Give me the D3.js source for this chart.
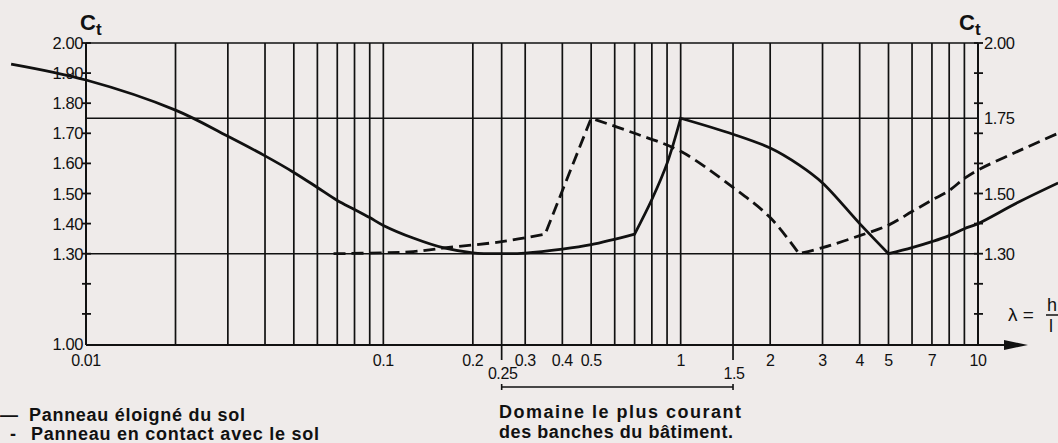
<!DOCTYPE html>
<html>
<head>
<meta charset="utf-8">
<script src="https://cdn.jsdelivr.net/npm/d3@7"></script>
<style>
  body { margin: 0; background: #efebea; }
  svg { display: block; }
  text { font-family: "Liberation Sans", Arial, sans-serif; fill: #111; }
</style>
</head>
<body>
<svg id="chart" width="1058" height="443"></svg>
<script>
// grid lines and tick labels (lambda = h/l, log scale)
const xGrid = [0.02, 0.03, 0.04, 0.05, 0.06, 0.07, 0.08, 0.09, 0.1,
  0.2, 0.25, 0.3, 0.4, 0.5, 0.6, 0.7, 0.8, 0.9, 1,
  1.5, 2, 3, 4, 5, 6, 7, 8, 9]
const xLabels = [0.01, 0.1, 0.2, 0.3, 0.4, 0.5, 1, 2, 3, 4, 5, 7, 10]
const xLabelText = ["0.01", "0.1", "0.2", "0.3", "0.4", "0.5", "1", "2", "3", "4", "5", "7", "10"]
const xLabelsLow = [0.25, 1.5]
const xLabelLowText = ["0.25", "1.5"]
const rangeBracket = [0.25, 1.5]

const yTicks = [1.1, 1.2, 1.3, 1.4, 1.5, 1.6, 1.7, 1.8, 1.9, 2.0]
const yLeftLabels = [1.0, 1.3, 1.4, 1.5, 1.6, 1.7, 1.8, 1.9, 2.0]
const yRightLabels = [1.3, 1.5, 1.75, 2.0]
const yGrid = [1.3, 1.75, 2.0]

// Panneau éloigné du sol (solid); each inner array is one smooth piece
const solidX = [
  [0.0056, 0.01, 0.02, 0.03, 0.04, 0.05, 0.06, 0.07, 0.08, 0.09, 0.1, 0.126, 0.16, 0.2, 0.25, 0.3, 0.4, 0.5, 0.7],
  [0.7, 0.8, 0.9, 1],
  [1, 1.5, 2, 2.5, 3, 4, 5],
  [5, 6, 7, 8, 9, 10, 13.6, 18.6]]
const solidY = [
  [1.93, 1.877, 1.777, 1.69, 1.625, 1.57, 1.52, 1.477, 1.447, 1.42, 1.394, 1.352, 1.319, 1.303, 1.30, 1.302, 1.315, 1.33, 1.365],
  [1.365, 1.48, 1.60, 1.75],
  [1.75, 1.697, 1.651, 1.595, 1.535, 1.40, 1.30],
  [1.30, 1.32, 1.34, 1.36, 1.383, 1.40, 1.47, 1.535]]

// Panneau en contact avec le sol (dashed)
const dashedX = [
  [0.068, 0.1, 0.126, 0.16, 0.25, 0.35],
  [0.35, 0.5],
  [0.5, 0.7, 1, 1.5, 2, 2.5],
  [2.5, 3, 4, 5, 6, 7, 8, 9, 10, 13.6, 18.6]]
const dashedY = [
  [1.30, 1.303, 1.307, 1.319, 1.34, 1.365],
  [1.365, 1.75],
  [1.75, 1.70, 1.64, 1.52, 1.42, 1.30],
  [1.30, 1.32, 1.36, 1.395, 1.44, 1.478, 1.51, 1.55, 1.578, 1.64, 1.70]]

const svg = d3.select("#chart")
const ink = "#111"

const x = d3.scaleLog().domain([0.01, 10]).range([86, 978])
const y = d3.scaleLinear().domain([1, 2]).range([344, 43])
const x0 = x(0.01), x1 = x(10)

// vertical grid
svg.append("g").selectAll("line")
  .data(xGrid)
  .join("line")
  .attr("x1", d => x(d)).attr("x2", d => x(d))
  .attr("y1", y(2)).attr("y2", d => xLabelsLow.includes(d) ? y(1) + 16 : y(1))
  .attr("stroke", ink).attr("stroke-width", 1.7)

// horizontal grid
svg.append("g").selectAll("line")
  .data(yGrid)
  .join("line")
  .attr("x1", x0).attr("x2", x1)
  .attr("y1", d => y(d)).attr("y2", d => y(d))
  .attr("stroke", ink).attr("stroke-width", 1.6)

// x axis with arrow
svg.append("line")
  .attr("x1", x0).attr("x2", 1012)
  .attr("y1", y(1) + 1).attr("y2", y(1) + 1)
  .attr("stroke", ink).attr("stroke-width", 2)
svg.append("path")
  .attr("d", `M1004,${y(1) - 4}L1028,${y(1) + 1}L1004,${y(1) + 6}Z`)
  .attr("fill", ink)

// y axes
;[x0, x1].forEach(px => {
  svg.append("line")
    .attr("x1", px).attr("x2", px)
    .attr("y1", y(2)).attr("y2", y(1) + 1)
    .attr("stroke", ink).attr("stroke-width", 2)
  svg.append("g").selectAll("line")
    .data(yTicks)
    .join("line")
    .attr("x1", px - 4).attr("x2", px + 5)
    .attr("y1", d => y(d)).attr("y2", d => y(d))
    .attr("stroke", ink).attr("stroke-width", 1.8)
})

svg.append("g").selectAll("text")
  .data(yLeftLabels)
  .join("text")
  .attr("x", x0 - 3).attr("y", d => y(d) + 6)
  .attr("text-anchor", "end")
  .attr("font-size", 16.5).attr("letter-spacing", -0.4)
  .text(d => d.toFixed(2))

svg.append("g").selectAll("text")
  .data(yRightLabels)
  .join("text")
  .attr("x", x1 + 6).attr("y", d => y(d) + 6)
  .attr("font-size", 16.5).attr("letter-spacing", -0.4)
  .text(d => d.toFixed(2))

// C_t titles
;[x0 - 6, x1 - 19].forEach(px => {
  const t = svg.append("text").attr("x", px).attr("y", 30)
    .attr("font-weight", "bold").attr("font-size", 22)
  t.append("tspan").text("C")
  t.append("tspan").attr("dy", 5).attr("font-size", 17).text("t")
})

// x labels
svg.append("g").selectAll("text")
  .data(xLabels)
  .join("text")
  .attr("x", d => x(d)).attr("y", 366)
  .attr("text-anchor", "middle")
  .attr("font-size", 16).attr("letter-spacing", -0.4)
  .text((d, i) => xLabelText[i])

svg.append("g").selectAll("text")
  .data(xLabelsLow)
  .join("text")
  .attr("x", d => x(d) + 1).attr("y", 379)
  .attr("text-anchor", "middle")
  .attr("font-size", 16).attr("letter-spacing", -0.4)
  .text((d, i) => xLabelLowText[i])

// lambda label
svg.append("text").attr("x", 1008).attr("y", 321).attr("font-size", 19).text("λ =")
svg.append("text").attr("x", 1047).attr("y", 311).attr("font-size", 18).text("h")
svg.append("line").attr("x1", 1046).attr("x2", 1060).attr("y1", 315).attr("y2", 315)
  .attr("stroke", ink).attr("stroke-width", 1.5)
svg.append("text").attr("x", 1049).attr("y", 332).attr("font-size", 18).text("l")

// bracket for common range
const by = 387
svg.append("line").attr("x1", x(rangeBracket[0])).attr("x2", x(rangeBracket[1]))
  .attr("y1", by).attr("y2", by).attr("stroke", ink).attr("stroke-width", 1.6)
rangeBracket.forEach(v => {
  svg.append("line").attr("x1", x(v)).attr("x2", x(v))
    .attr("y1", by - 3).attr("y2", by + 3).attr("stroke", ink).attr("stroke-width", 1.6)
})

// curves: smooth pieces joined into one path so corners stay sharp
const piece = d3.line().x(d => x(d[0])).y(d => y(d[1])).curve(d3.curveCatmullRom.alpha(0.5))
const joined = (xs, ys) => xs.map((seg, k) => {
  const p = piece(seg.map((v, i) => [v, ys[k][i]]))
  return k === 0 ? p : "L" + p.slice(1)
}).join("")

svg.append("path")
  .attr("d", joined(solidX, solidY))
  .attr("fill", "none").attr("stroke", ink).attr("stroke-width", 2.8)

svg.append("path")
  .attr("d", joined(dashedX, dashedY))
  .attr("fill", "none").attr("stroke", ink).attr("stroke-width", 2.8)
  .attr("stroke-dasharray", "12,6")

// legend and note
const bold = (tx, ty, str, len) => {
  const t = svg.append("text").attr("x", tx).attr("y", ty)
    .attr("font-weight", "bold").attr("font-size", 18).text(str)
  if (len) t.attr("textLength", len).attr("lengthAdjust", "spacing")
  return t
}
bold(0, 421, "—")
bold(29, 421, "Panneau éloigné du sol", 216)
bold(10, 440, "-")
bold(31, 440, "Panneau en contact avec le sol", 288)
bold(499, 418, "Domaine le plus courant", 242)
bold(499, 438, "des banches du bâtiment.", 234)
</script>
</body>
</html>
